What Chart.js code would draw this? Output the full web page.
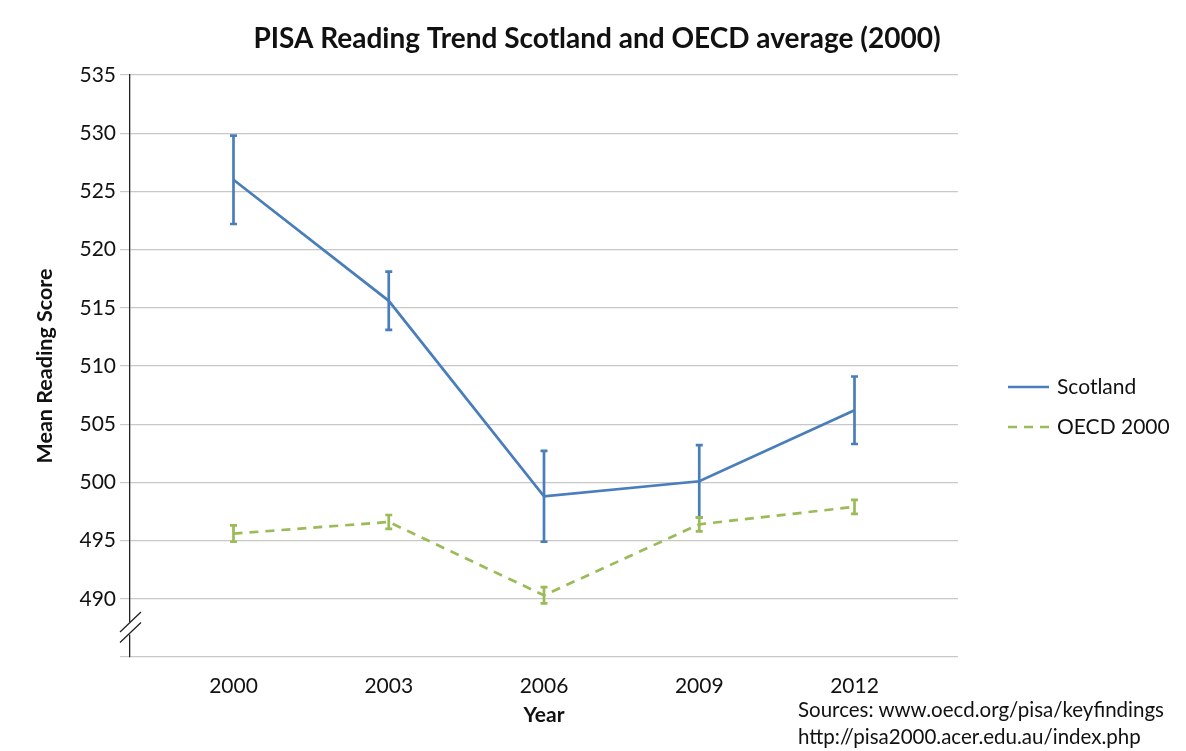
<!DOCTYPE html>
<html lang="en">
<head>
    <meta charset="UTF-8">
    <title>PISA Reading Trend</title>
    <script src="https://cdn.jsdelivr.net/npm/chart.js"></script>
    <style>
        body {
            margin: 0;
            background: #fff;
            font-family: Lato, sans-serif;
        }
        .wrap {
            position: relative;
            width: 1186px;
            height: 751px;
        }
        .sources {
            position: absolute;
            left: 798px;
            top: 696px;
            font-size: 20.5px;
            line-height: 27px;
            color: #111;
        }
    </style>
</head>
<body>
    <div class="wrap">
        <canvas id="pisaChart" width="1186" height="751"></canvas>
        <div class="sources">Sources: www.oecd.org/pisa/keyfindings<br>http://pisa2000.acer.edu.au/index.php</div>
    </div>

    <script>
const years = [2000, 2003, 2006, 2009, 2012];
const scotland = [526.0, 515.6, 498.8, 500.1, 506.2];
const scotlandErr = [3.8, 2.5, 3.9, 3.1, 2.9];
const oecd = [495.6, 496.6, 490.3, 496.4, 497.9];
const oecdErr = [0.7, 0.6, 0.7, 0.6, 0.6];
const yTicks = [485, 490, 495, 500, 505, 510, 515, 520, 525, 530, 535];
const chartTitle = 'PISA Reading Trend Scotland and OECD average (2000)';

const blue = '#4a7ebb';
const green = '#9bbb59';

// error bars, axis break, title and legend
const extras = {
    id: 'extras',
    afterDatasetsDraw(chart) {
        const ctx = chart.ctx;
        const x = chart.scales.x, y = chart.scales.y;
        const sets = [[scotland, scotlandErr, blue], [oecd, oecdErr, green]];
        ctx.save();
        ctx.lineWidth = 2.7;
        sets.forEach(([vals, errs, col]) => {
            ctx.strokeStyle = col;
            vals.forEach((v, i) => {
                const px = x.getPixelForValue(years[i]);
                const top = y.getPixelForValue(v + errs[i]);
                const bot = y.getPixelForValue(v - errs[i]);
                ctx.beginPath();
                ctx.moveTo(px, top); ctx.lineTo(px, bot);
                ctx.moveTo(px - 3.5, top); ctx.lineTo(px + 3.5, top);
                ctx.moveTo(px - 3.5, bot); ctx.lineTo(px + 3.5, bot);
                ctx.stroke();
            });
        });
        ctx.restore();
    },
    afterDraw(chart) {
        const ctx = chart.ctx;
        const y = chart.scales.y;
        const ax = chart.chartArea.left;
        const b1 = y.getPixelForValue(488.0);
        const b2 = y.getPixelForValue(487.1);
        ctx.save();
        // axis break
        ctx.fillStyle = '#fff';
        ctx.fillRect(ax - 2, b1, 4, b2 - b1 + 2);
        ctx.strokeStyle = '#222';
        ctx.lineWidth = 1.3;
        ctx.beginPath();
        ctx.moveTo(ax - 10, b1 + 10); ctx.lineTo(ax + 11, b1 - 10);
        ctx.moveTo(ax - 10, b2 + 10); ctx.lineTo(ax + 11, b2 - 10);
        ctx.stroke();

        // title, centred on the whole picture
        ctx.fillStyle = '#111';
        ctx.font = 'bold 28px Lato, sans-serif';
        ctx.textAlign = 'center';
        ctx.textBaseline = 'middle';
        ctx.fillText(chartTitle, chart.width / 2 + 4, 39);

        // legend
        const lx = chart.chartArea.right + 50;
        const items = [['Scotland', blue, []], ['OECD 2000', green, [9, 7]]];
        ctx.font = '21px Lato, sans-serif';
        ctx.textAlign = 'left';
        items.forEach(([label, col, dash], i) => {
            const ly = 387 + i * 40;
            ctx.strokeStyle = col;
            ctx.lineWidth = 2.7;
            ctx.setLineDash(dash);
            ctx.beginPath();
            ctx.moveTo(lx, ly); ctx.lineTo(lx + 41, ly);
            ctx.stroke();
            ctx.setLineDash([]);
            ctx.fillStyle = '#111';
            ctx.fillText(label, lx + 49, ly);
        });
        ctx.restore();
    }
};

new Chart(document.getElementById('pisaChart'), {
    type: 'line',
    data: {
        datasets: [{
            label: 'Scotland',
            data: years.map((yr, i) => ({ x: yr, y: scotland[i] })),
            borderColor: blue,
            borderWidth: 2.7,
            pointRadius: 0,
            tension: 0
        }, {
            label: 'OECD 2000',
            data: years.map((yr, i) => ({ x: yr, y: oecd[i] })),
            borderColor: green,
            borderWidth: 2.7,
            borderDash: [9, 7],
            pointRadius: 0,
            tension: 0
        }]
    },
    options: {
        responsive: false,
        animation: false,
        layout: { padding: { left: 0, right: 228, top: 75, bottom: 0 } },
        plugins: {
            legend: { display: false },
            tooltip: { enabled: false },
            title: { display: false }
        },
        scales: {
            x: {
                type: 'linear',
                min: 1998,
                max: 2014,
                afterBuildTicks: s => { s.ticks = years.map(v => ({ value: v })); },
                afterFit: s => { s.height = 94; },
                grid: { display: false },
                border: { display: false },
                ticks: {
                    color: '#111',
                    font: { family: 'Lato', size: 21 },
                    padding: 9,
                    maxRotation: 0,
                    callback: v => String(v)
                },
                title: {
                    display: true,
                    text: 'Year',
                    color: '#111',
                    font: { family: 'Lato', size: 21, weight: 'bold' },
                    padding: { top: 0, bottom: 23 }
                }
            },
            y: {
                min: 485,
                max: 535,
                afterBuildTicks: s => { s.ticks = yTicks.map(v => ({ value: v })); },
                afterFit: s => { s.width = 130; },
                grid: { color: '#c8c8c8', lineWidth: 1.2, tickLength: 10 },
                border: { display: true, color: '#222', width: 1.3 },
                ticks: {
                    color: '#111',
                    font: { family: 'Lato', size: 21 },
                    padding: 4,
                    callback: v => (v === 485 ? '' : String(v))
                },
                title: {
                    display: true,
                    text: 'Mean Reading Score',
                    color: '#111',
                    font: { family: 'Lato', size: 21.5, weight: 'bold' },
                    padding: { top: 32, bottom: 0 }
                }
            }
        }
    },
    plugins: [extras]
});
    </script>
</body>
</html>
